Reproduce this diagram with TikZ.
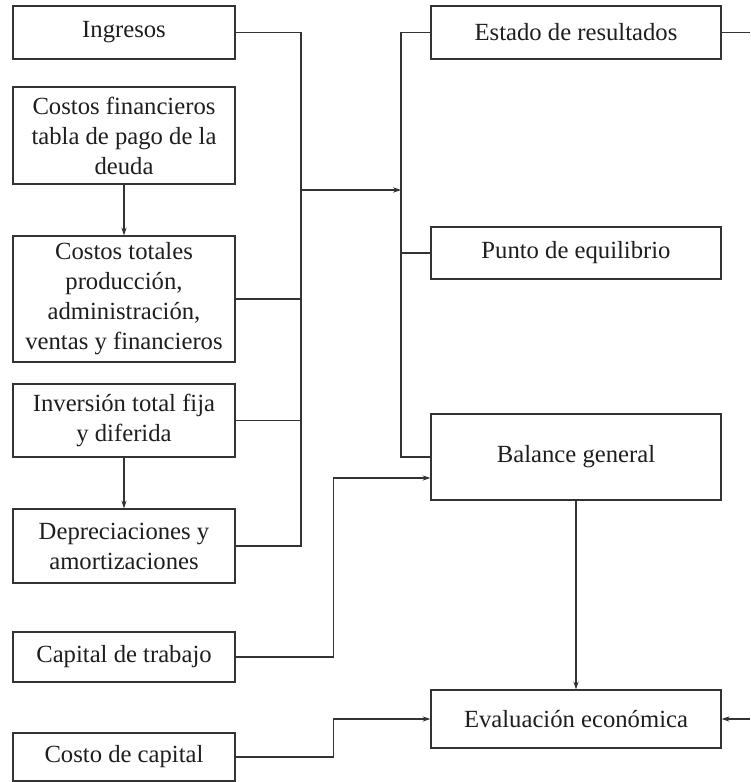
\documentclass[tikz,border=0pt]{standalone}
\usepackage{fontspec}
\setmainfont{Liberation Serif}
\usepackage{tikz}
\usetikzlibrary{arrows.meta,positioning,calc}
\definecolor{linegray}{HTML}{333333}
\definecolor{textgray}{HTML}{1E1E1E}

\begin{document}
\begin{tikzpicture}[
			x=0.75pt,y=-0.75pt,
			box/.style={draw=linegray,line width=0.9pt,fill=white,align=center,inner sep=2pt,text=textgray,font=\fontsize{18.5}{22.5}\selectfont},
			lbox/.style={box,minimum width=166.5pt},
			rbox/.style={box,minimum width=217.5pt},
			conn/.style={draw=linegray,line width=0.8pt},
			arr/.style={conn,-{Stealth[length=6pt,width=4pt]}}
			]
			\useasboundingbox (0,0) rectangle (750,782);
			% left column
			\node[lbox,minimum height=39.75pt] (ing) at (124,32.5) {Ingresos};
			\node[lbox,minimum height=72.75pt] (cfin) at (124,135.5) {Costos financieros\\tabla de pago de la\\deuda};
			\node[lbox,minimum height=94.5pt] (ctot) at (124,299) {Costos totales\\producci\'on,\\administraci\'on,\\ventas y financieros};
			\node[lbox,minimum height=54.75pt] (inv) at (124,420.5) {Inversi\'on total fija\\y diferida};
			\node[lbox,minimum height=55.5pt] (dep) at (124,546) {Depreciaciones y\\amortizaciones};
			\node[lbox,minimum height=37.5pt] (cap) at (124,657) {Capital de trabajo};
			\node[lbox,minimum height=36pt] (ccap) at (124,757) {Costo de capital};
			% right column
			\node[rbox,minimum height=39.75pt] (est) at (576,32.5) {Estado de resultados};
			\node[rbox,minimum height=39pt] (peq) at (576,253) {Punto de equilibrio};
			\node[rbox,minimum height=64.5pt] (bal) at (576,457) {Balance general};
			\node[rbox,minimum height=43.5pt] (eva) at (576,719) {Evaluaci\'on econ\'omica};
			% buses and edges
			\coordinate (lbus) at (301,0);
			\coordinate (rbus) at (401,0);
			\coordinate (mid) at (301,190);
			\coordinate (redge) at (750,0);
			\draw[arr] (cfin) -- (ctot);
			\draw[arr] (inv) -- (dep);
			\draw[conn] (ing.east) -- (ing.east -| lbus) -- (dep.east -| lbus) -- (dep.east);
			\draw[conn] (ctot.east) -- (ctot.east -| lbus);
			\draw[conn] (inv.east) -- (inv.east -| lbus);
			\draw[arr] (mid) -- (mid -| rbus);
			\draw[conn] (est.west) -- (est.west -| rbus) -- (bal.west -| rbus) -- (bal.west);
			\draw[conn] (peq.west) -- (peq.west -| rbus);
			\draw[arr] (cap.east) -- ++(98,0) |- ($(bal.west)+(0,21)$);
			\draw[arr] (ccap.east) -- ++(98,0) |- (eva.west);
			\draw[arr] (bal) -- (eva);
			\draw[conn] (est.east) -- (est.east -| redge);
			\draw[arr] (eva.east -| redge) -- (eva.east);
		\end{tikzpicture}
\end{document}
